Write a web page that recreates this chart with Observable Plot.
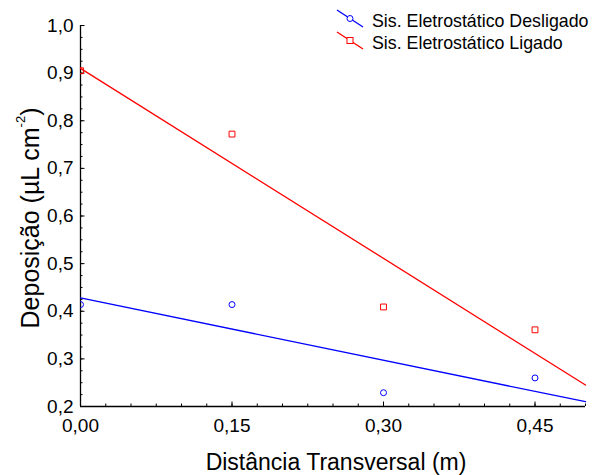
<!DOCTYPE html>
<html><head><meta charset="utf-8">
<script src="https://cdn.jsdelivr.net/npm/d3@7"></script>
<script src="https://cdn.jsdelivr.net/npm/@observablehq/plot@0.6"></script>
<style>
html,body{margin:0;padding:0;background:#fff;}
#wrap{position:relative;width:592px;height:475px;font-family:"Liberation Sans",Arial,Helvetica,sans-serif;}
#legend{position:absolute;left:0;top:0;}
</style></head><body>
<div id="wrap"></div>
<script>
// ---- data ----
const distancia = [0, 0.15, 0.30, 0.45];
const desligado = [0.414, 0.414, 0.229, 0.260];
const ligado = [0.905, 0.772, 0.409, 0.361];
const fitX = [0, 0.5];
const fitDesligado = [0.428, 0.210];
const fitLigado = [0.910, 0.245];
const seriesNames = ["Sis. Eletrostático Desligado", "Sis. Eletrostático Ligado"];
const seriesColors = ["#0000ff", "#ff0000"];
const xTicks = [0, 0.15, 0.30, 0.45];
const yTicks = [0.2, 0.3, 0.4, 0.5, 0.6, 0.7, 0.8, 0.9, 1.0];
const xMinor = d3.range(0, 21).map(i => i * 0.025);
const yMinor = d3.range(0, 33).map(i => 0.2 + i * 0.025);
const xTitle = "Distância Transversal (m)";
const yTitle = "Deposição (µL cm-2)";

const font = '"Liberation Sans", Arial, Helvetica, sans-serif';
const fmt = n => d => d.toFixed(n).replace(".", ",");
const blank = () => "";

const plot = Plot.plot({
  width: 592, height: 475,
  marginLeft: 80, marginRight: 7, marginTop: 25, marginBottom: 69,
  style: {fontFamily: font, fontSize: "19px", background: "#fff", color: "#000", overflow: "visible"},
  x: {domain: [0, 0.5]},
  y: {domain: [0.2, 1.0]},
  marks: [
    Plot.axisX({ticks: xMinor, tickSize: -2.5, tickFormat: blank, label: null}),
    Plot.axisX({ticks: xTicks, tickSize: -4.5, tickFormat: blank, label: null}),
    Plot.axisX({ticks: xTicks, tickSize: 0, tickPadding: 12, tickFormat: fmt(2), label: null, fontSize: 19}),
    Plot.axisY({ticks: yMinor, tickSize: -2.5, tickFormat: blank, label: null}),
    Plot.axisY({ticks: yTicks, tickSize: -4.5, tickFormat: blank, label: null}),
    Plot.axisY({ticks: yTicks, tickSize: 0, tickPadding: 7, tickFormat: fmt(1), label: null, fontSize: 19}),
    Plot.ruleX([0], {stroke: "#000", strokeWidth: 1.3}),
    Plot.ruleY([0.2], {stroke: "#000", strokeWidth: 1.3}),
    Plot.line(fitX, {x: d => d, y: (d, i) => fitDesligado[i], stroke: seriesColors[0], strokeWidth: 1.3}),
    Plot.line(fitX, {x: d => d, y: (d, i) => fitLigado[i], stroke: seriesColors[1], strokeWidth: 1.3}),
    Plot.dot(distancia, {x: d => d, y: (d, i) => desligado[i], r: 3, stroke: seriesColors[0], fill: "none", strokeWidth: 1, clip: true}),
    Plot.dot(distancia, {x: d => d, y: (d, i) => ligado[i], symbol: "square", r: 3.3, stroke: seriesColors[1], fill: "none", strokeWidth: 1, clip: true}),
    Plot.text([xTitle], {text: d => d, frameAnchor: "bottom", textAnchor: "middle", dx: 3, dy: 63, lineAnchor: "bottom", fontSize: 23, fill: "#000"}),
    Plot.text([yTitle], {text: d => d, frameAnchor: "left", textAnchor: "middle", dx: -42, dy: 2, rotate: -90, lineAnchor: "bottom", fontSize: 25, fill: "#000"})
  ]
});
document.getElementById("wrap").appendChild(plot);

// superscript in the y title
const yEl = [...plot.querySelectorAll("text")].find(t => t.textContent === yTitle);
if (yEl) {
  yEl.textContent = "";
  const ns = "http://www.w3.org/2000/svg";
  const parts = [["Deposição (µL cm", null, null], ["-2", "13px", "-14"], [")", null, "14"]];
  for (const [s, fs, dy] of parts) {
    const ts = document.createElementNS(ns, "tspan");
    ts.textContent = s;
    if (fs) ts.setAttribute("font-size", fs);
    if (dy) ts.setAttribute("dy", dy);
    yEl.appendChild(ts);
  }
}

// legend
const leg = d3.select("#wrap").append("svg").attr("id", "legend")
  .attr("width", 592).attr("height", 60);
seriesNames.forEach((name, i) => {
  const y0 = 10 + i * 22;
  const g = leg.append("g");
  g.append("line").attr("x1", 337).attr("y1", y0).attr("x2", 363).attr("y2", y0 + 17)
    .attr("stroke", seriesColors[i]).attr("stroke-width", 1.3);
  if (i === 0) {
    g.append("circle").attr("cx", 350).attr("cy", y0 + 8.5).attr("r", 3)
      .attr("fill", "#fff").attr("stroke", seriesColors[i]);
  } else {
    g.append("rect").attr("x", 347).attr("y", y0 + 5.5).attr("width", 6).attr("height", 6)
      .attr("fill", "#fff").attr("stroke", seriesColors[i]);
  }
  g.append("text").attr("x", 372).attr("y", y0 + 16.5)
    .attr("font-family", font).attr("font-size", 17.8).attr("fill", "#000").text(name);
});
</script>
</body></html>
